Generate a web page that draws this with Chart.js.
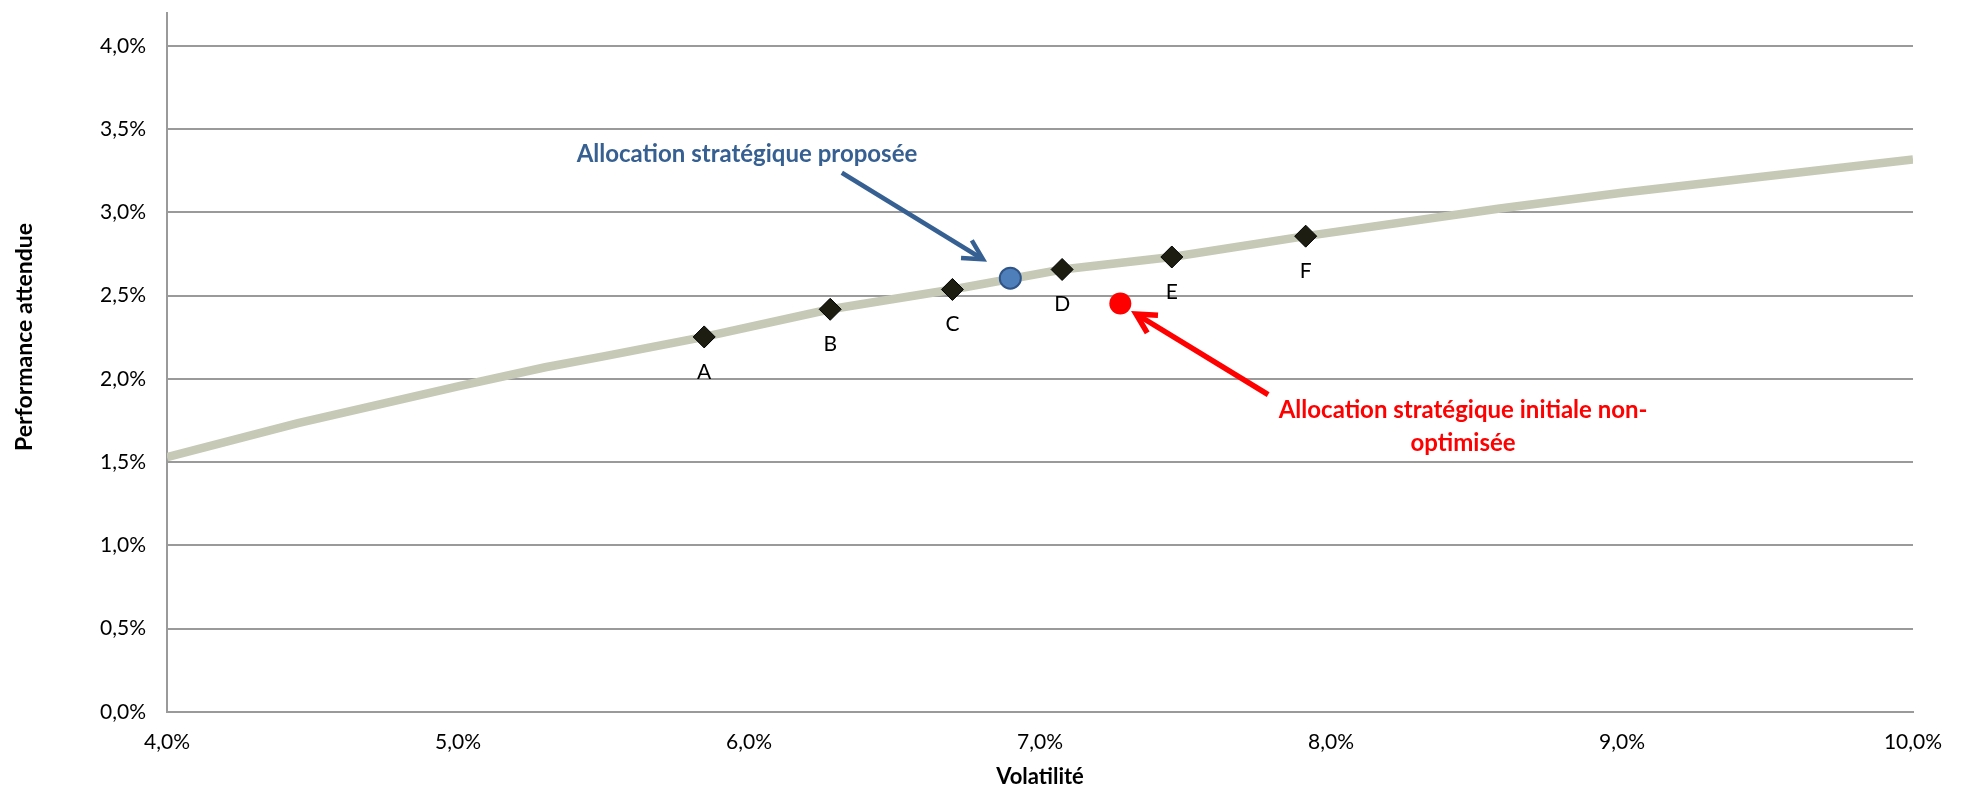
<!DOCTYPE html>
<html>
<head>
<meta charset="utf-8">
<script src="https://cdn.jsdelivr.net/npm/chart.js@4.4.1/dist/chart.umd.min.js"></script>
<style>
  html, body { margin: 0; padding: 0; background: #fff; }
</style>
</head>
<body>
<canvas id="graphique" width="1964" height="790"></canvas>
<script>
// frontière efficiente (volatilité / performance attendue, en %)
const frontiereVol  = [4.0, 4.45, 5.0, 5.3, 5.5, 5.846, 6.279, 6.699, 7.076, 7.453, 7.913, 8.58, 9.0, 10.0];
const frontierePerf = [1.53, 1.735, 1.955, 2.07, 2.135, 2.252, 2.418, 2.537, 2.657, 2.732, 2.857, 3.023, 3.118, 3.317];

// portefeuilles types
const portefeuilles     = ['A', 'B', 'C', 'D', 'E', 'F'];
const portefeuillesVol  = [5.846, 6.279, 6.699, 7.076, 7.453, 7.913];
const portefeuillesPerf = [2.252, 2.418, 2.537, 2.657, 2.732, 2.857];

// allocations
const proposeeVol = [6.898];
const proposeePerf = [2.605];
const initialeVol = [7.276];
const initialePerf = [2.453];

// graduations
const ticksX = [4, 5, 6, 7, 8, 9, 10];
const ticksY = [0, 0.5, 1, 1.5, 2, 2.5, 3, 3.5, 4];

// annotations (coordonnées en valeurs des axes)
const texteProposee = 'Allocation stratégique proposée';
const texteProposeePos = [5.993, 3.347];
const flecheProposee = [[6.319, 3.238], [6.804, 2.718]];
const texteInitiale = ['Allocation stratégique initiale non-', 'optimisée'];
const texteInitialePos = [[8.454, 1.810], [8.454, 1.615]];
const flecheInitiale = [[7.784, 1.906], [7.330, 2.390]];

const BLEU = '#376092';
const ROUGE = '#ff0000';
const POLICE = 'Lato';

function pct(v) {
    return v.toFixed(1).replace('.', ',') + '%';
}

function points(xs, ys) {
    return xs.map((v, i) => ({ x: v, y: ys[i] }));
}

function fleche(ctx, x0, y0, x1, y1, couleur, epaisseur) {
    const angle = Math.atan2(y1 - y0, x1 - x0);
    const l = 22, a = 28 * Math.PI / 180;
    ctx.save();
    ctx.strokeStyle = couleur;
    ctx.lineWidth = epaisseur;
    ctx.lineCap = 'butt';
    ctx.lineJoin = 'miter';
    ctx.beginPath();
    ctx.moveTo(x0, y0);
    ctx.lineTo(x1 - Math.cos(angle) * 2, y1 - Math.sin(angle) * 2);
    ctx.stroke();
    ctx.beginPath();
    ctx.moveTo(x1 - l * Math.cos(angle - a), y1 - l * Math.sin(angle - a));
    ctx.lineTo(x1, y1);
    ctx.lineTo(x1 - l * Math.cos(angle + a), y1 - l * Math.sin(angle + a));
    ctx.stroke();
    ctx.restore();
}

const annotations = {
    id: 'annotations',
    afterDatasetsDraw(chart) {
        const ctx = chart.ctx;
        const x = chart.scales.x, y = chart.scales.y;
        const px = v => x.getPixelForValue(v);
        const py = v => y.getPixelForValue(v);

        ctx.save();
        // étiquettes A-F
        ctx.font = '21px ' + POLICE;
        ctx.fillStyle = '#000';
        ctx.textAlign = 'center';
        ctx.textBaseline = 'middle';
        portefeuilles.forEach((n, i) => {
            ctx.fillText(n, px(portefeuillesVol[i]), py(portefeuillesPerf[i]) + 35);
        });

        // flèches
        fleche(ctx, px(flecheProposee[0][0]), py(flecheProposee[0][1]),
            px(flecheProposee[1][0]), py(flecheProposee[1][1]), BLEU, 4.5);
        fleche(ctx, px(flecheInitiale[0][0]), py(flecheInitiale[0][1]),
            px(flecheInitiale[1][0]), py(flecheInitiale[1][1]), ROUGE, 5.5);

        // textes
        ctx.font = 'bold 24px ' + POLICE;
        ctx.fillStyle = BLEU;
        ctx.fillText(texteProposee, px(texteProposeePos[0]), py(texteProposeePos[1]));
        ctx.fillStyle = ROUGE;
        texteInitiale.forEach((t, i) => {
            ctx.fillText(t, px(texteInitialePos[i][0]), py(texteInitialePos[i][1]));
        });

        // titre de l'axe vertical
        ctx.translate(25, 337);
        ctx.rotate(-Math.PI / 2);
        ctx.font = 'bold 23px ' + POLICE;
        ctx.fillStyle = '#000';
        ctx.fillText('Performance attendue', 0, 0);
        ctx.restore();
    }
};

const ctx = document.getElementById('graphique').getContext('2d');
const chart = new Chart(ctx, {
    type: 'scatter',
    data: {
        datasets: [
            {
                label: 'Portefeuilles',
                data: points(portefeuillesVol, portefeuillesPerf),
                pointStyle: 'rectRot',
                pointRadius: 11,
                pointBackgroundColor: '#1d1d12',
                pointBorderColor: '#000',
                pointBorderWidth: 1,
                order: 1
            },
            {
                label: 'Allocation proposée',
                data: points(proposeeVol, proposeePerf),
                pointStyle: 'circle',
                pointRadius: 10.5,
                pointBackgroundColor: '#4f7fba',
                pointBorderColor: '#2f5487',
                pointBorderWidth: 2,
                order: 2
            },
            {
                label: 'Allocation initiale',
                data: points(initialeVol, initialePerf),
                pointStyle: 'circle',
                pointRadius: 11,
                pointBackgroundColor: ROUGE,
                pointBorderColor: ROUGE,
                pointBorderWidth: 0,
                order: 3
            },
            {
                label: 'Frontière efficiente',
                data: points(frontiereVol, frontierePerf),
                showLine: true,
                borderColor: 'rgb(197,201,182)',
                borderWidth: 8.5,
                pointRadius: 0,
                tension: 0,
                order: 4
            }
        ]
    },
    options: {
        responsive: false,
        animation: false,
        devicePixelRatio: 1,
        layout: { padding: { top: 9, right: 51, left: 0, bottom: 0 } },
        plugins: {
            legend: { display: false },
            tooltip: { enabled: false }
        },
        scales: {
            x: {
                type: 'linear',
                min: 4,
                max: 10,
                afterBuildTicks: s => { s.ticks = ticksX.map(v => ({ value: v })); },
                afterFit: s => { s.height = 78; s.paddingLeft = 0; s.paddingRight = 0; },
                grid: { display: false, drawTicks: false },
                border: { display: true, color: '#9a9a9a', width: 2 },
                ticks: {
                    padding: 18,
                    color: '#000',
                    font: { family: POLICE, size: 21 },
                    callback: v => pct(v)
                },
                title: {
                    display: true,
                    text: 'Volatilité',
                    color: '#000',
                    font: { family: POLICE, size: 22, weight: 'bold', lineHeight: 1.2 },
                    padding: { top: 0, bottom: 0 }
                }
            },
            y: {
                type: 'linear',
                min: 0,
                max: 4.2,
                afterBuildTicks: s => { s.ticks = ticksY.map(v => ({ value: v })); },
                afterFit: s => { s.width = 167; s.paddingTop = 0; s.paddingBottom = 0; },
                grid: { color: '#9a9a9a', lineWidth: 2, drawTicks: false },
                border: { display: true, color: '#9a9a9a', width: 2 },
                ticks: {
                    padding: 21,
                    color: '#000',
                    font: { family: POLICE, size: 21 },
                    callback: v => pct(v)
                }
            }
        }
    },
    plugins: [annotations]
});
</script>
</body>
</html>
